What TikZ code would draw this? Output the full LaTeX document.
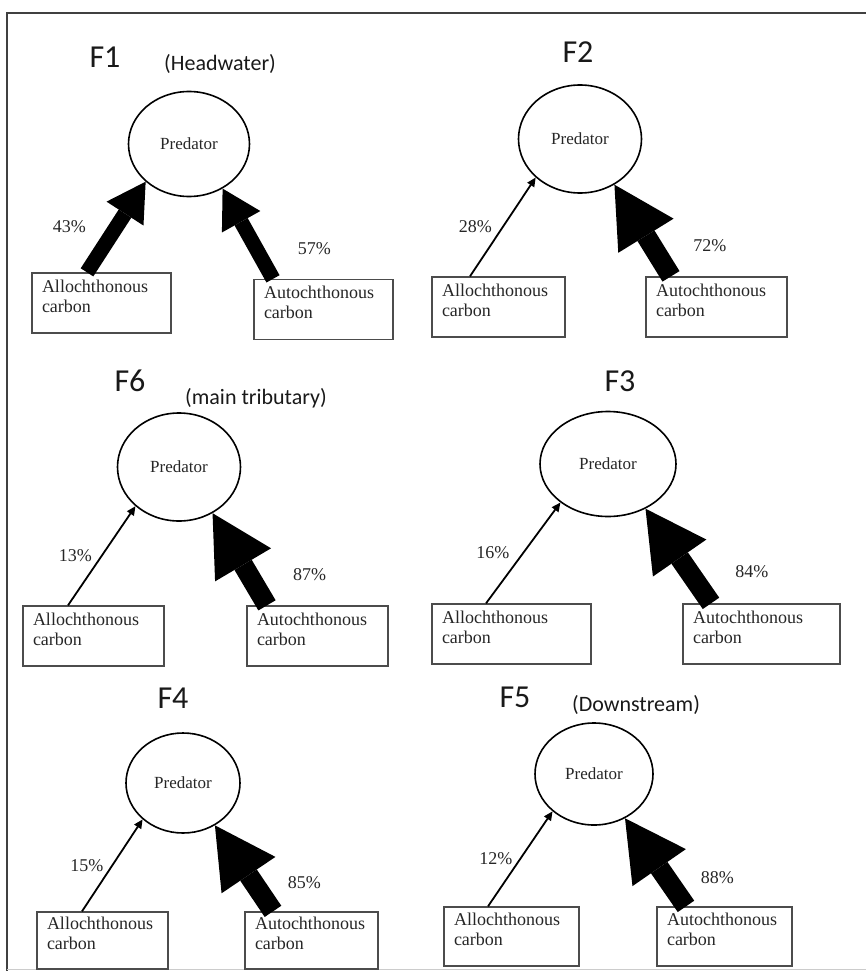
\documentclass[tikz,border=0pt]{standalone}
\usepackage{fontspec}
\setmainfont{Liberation Serif}
\newfontfamily\sitefont{Carlito}
\usepackage{tikz}
\usetikzlibrary{shapes.geometric, positioning, arrows.meta}

\begin{document}
\begin{tikzpicture}[x=1pt, y=-1pt,
    predator/.style={draw, ellipse, line width=1.6pt, inner sep=0pt, text=black!85, font=\fontsize{17}{20}\selectfont},
    carbon/.style={draw=black!70, line width=1.3pt, text width=#1, align=left, inner xsep=10pt, inner ysep=2pt, minimum height=60pt, text=black!85, font=\fontsize{18}{20}\selectfont, execute at end node={\endgraf\vspace{14pt}}},
    site/.style={text=black!90, font=\sitefont\fontsize{32}{36}\selectfont},
    reach/.style={text=black!90, font=\sitefont\fontsize{22}{26}\selectfont},
    share/.style={inner sep=2pt, text=black!85, font=\fontsize{18}{20}\selectfont},
    minor flow/.style={-{Triangle[length=9pt, width=8pt]}, line width=1.8pt},
    mid flow/.style={-{Triangle[length=38pt, width=44pt, line width=0pt]}, line width=15pt},
    major flow/.style={-{Triangle[length=60pt, width=65pt, line width=0pt]}, line width=20pt}]
    \useasboundingbox (0,0) rectangle (866,971);
    \draw[black!75, line width=1.5pt] (866,13) -- (7,13) -- (7,971);
    \draw[black!20, line width=1pt] (7,969) -- (866,969);

    % F1
    \node[site] (s1) at (105,57) {F1};
    \node[reach] (r1) at (220,64) {(Headwater)};
    \node[predator, minimum width=121pt, minimum height=105pt] (p1) at (189,144) {Predator};
    \node[carbon=119pt] (allo1) at (101.5,303) {Allochthonous\\carbon};
    \node[carbon=119pt] (auto1) at (323.5,309.5) {Autochthonous\\carbon};

    \path
    ([xshift=-14.5pt]allo1.north) edge[mid flow] node[share, left=21pt] (l1) {43\%} (p1.221)
    ([xshift=-50.5pt]auto1.north) edge[mid flow] node[share, right=32pt, pos=0.33] (m1) {57\%} (p1.307);

    % F2
    \node[site] (s2) at (578,52) {F2};
    \node[predator, minimum width=123pt, minimum height=108pt] (p2) at (580,139) {Predator};
    \node[carbon=113pt] (allo2) at (498.5,307) {Allochthonous\\carbon};
    \node[carbon=121pt] (auto2) at (716.5,307) {Autochthonous\\carbon};

    \path
    ([xshift=-28.5pt]allo2.north) edge[minor flow] node[share, left=8pt] (l2) {28\%} (p2.221)
    ([xshift=-45.5pt]auto2.north) edge[major flow] node[share, right=29pt, pos=0.33] (m2) {72\%} (p2.307);

    % F6
    \node[site] (s6) at (130,381) {F6};
    \node[reach] (r6) at (256,398) {(main tributary)};
    \node[predator, minimum width=123pt, minimum height=108pt] (p6) at (179,467) {Predator};
    \node[carbon=121pt] (allo6) at (93.5,636) {Allochthonous\\carbon};
    \node[carbon=121pt] (auto6) at (317.5,636) {Autochthonous\\carbon};

    \path
    ([xshift=-25.5pt]allo6.north) edge[minor flow] node[share, left=7pt] (l6) {13\%} (p6.222)
    ([xshift=-50.5pt]auto6.north) edge[major flow] node[share, right=32pt, pos=0.33] (m6) {87\%} (p6.306);

    % F3
    \node[site] (s3) at (620,381) {F3};
    \node[predator, minimum width=136pt, minimum height=105pt] (p3) at (608,464) {Predator};
    \node[carbon=139pt] (allo3) at (511.5,634) {Allochthonous\\carbon};
    \node[carbon=137pt] (auto3) at (761.5,634) {Autochthonous\\carbon};

    \path
    ([xshift=-25.5pt]allo3.north) edge[minor flow] node[share, left=11pt] (l3) {16\%} (p3.219)
    ([xshift=-50.5pt]auto3.north) edge[major flow] node[share, right=34pt, pos=0.33] (m3) {84\%} (p3.310);

    % F4
    \node[site] (s4) at (173,698) {F4};
    \node[predator, minimum width=114pt, minimum height=100pt] (p4) at (183,783) {Predator};
    \node[carbon=111pt, minimum height=57pt] (allo4) at (102.5,940.5) {Allochthonous\\carbon};
    \node[carbon=113pt, minimum height=57pt] (auto4) at (311.5,940.5) {Autochthonous\\carbon};

    \path
    ([xshift=-20.5pt]allo4.north) edge[minor flow] node[share, left=6pt] (l4) {15\%} (p4.222)
    ([xshift=-38.5pt]auto4.north) edge[major flow] node[share, right=22pt, pos=0.33] (m4) {85\%} (p4.307);

    % F5
    \node[site] (s5) at (515,697) {F5};
    \node[reach] (r5) at (636,705) {(Downstream)};
    \node[predator, minimum width=118pt, minimum height=102pt] (p5) at (594,774) {Predator};
    \node[carbon=115pt, minimum height=59pt] (allo5) at (511.5,936.5) {Allochthonous\\carbon};
    \node[carbon=115pt, minimum height=59pt] (auto5) at (724.5,936.5) {Autochthonous\\carbon};

    \path
    ([xshift=-23.5pt]allo5.north) edge[minor flow] node[share, left=5pt] (l5) {12\%} (p5.222)
    ([xshift=-38.5pt]auto5.north) edge[major flow] node[share, right=23pt, pos=0.33] (m5) {88\%} (p5.305);
\end{tikzpicture}
\end{document}
